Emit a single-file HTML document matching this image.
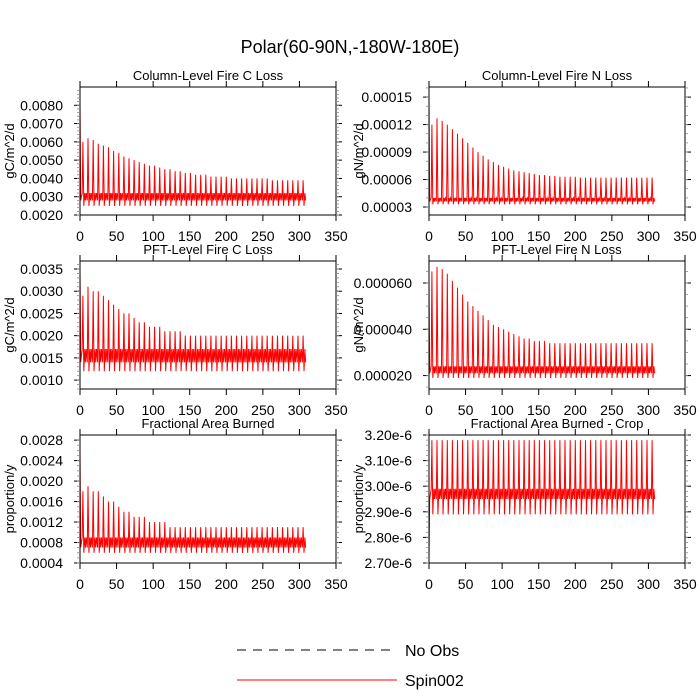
<!DOCTYPE html>
<html><head><meta charset="utf-8"><style>
body{margin:0;background:#fff;}
svg{display:block;font-family:"Liberation Sans",sans-serif;}
</style></head><body>
<svg id="c" width="700" height="700">
<text x="350" y="53" text-anchor="middle" font-size="18">Polar(60-90N,-180W-180E)</text>
<g>
<line x1="237" y1="650" x2="397" y2="650" stroke="#000" stroke-dasharray="9,7"/>
<text x="405" y="656" font-size="16">No Obs</text>
<line x1="237" y1="680" x2="397" y2="680" stroke="red"/>
<text x="405" y="686" font-size="16">Spin002</text>
</g>
</svg>
<script>
const xTicks=[0,50,100,150,200,250,300,350];
const p1Peaks=[0.0060,0.0062,0.0061,0.0059,0.0058,0.0057,0.0055,0.0054,0.0052,0.0051,0.0050,0.0049,0.0048,0.0047,0.0047,0.0046,0.0045,0.0045,0.0044,0.0044,0.0043,0.0043,0.0042,0.0042,0.0042,0.0041,0.0041,0.0041,0.0041,0.0040,0.0040,0.0040,0.0040,0.0040,0.0040,0.0040,0.0040,0.0039,0.0039,0.0039,0.0039,0.0039,0.0039,0.0039];
const p1Levels=[0.0082,0.0025,0.0028,0.0032];
const p2Peaks=[0.000120,0.000127,0.000124,0.000120,0.000115,0.000110,0.000105,0.000100,0.000095,0.000090,0.000086,0.000082,0.000079,0.000076,0.000074,0.000072,0.000070,0.000069,0.000068,0.000067,0.000066,0.000065,0.000065,0.000064,0.000064,0.000063,0.000063,0.000063,0.000063,0.000062,0.000062,0.000062,0.000062,0.000062,0.000062,0.000062,0.000062,0.000062,0.000062,0.000062,0.000062,0.000062,0.000062,0.000062];
const p2Levels=[0.000145,0.000033,0.000036,0.000040];
const p3Peaks=[0.0029,0.0031,0.0030,0.0030,0.0029,0.0028,0.0027,0.0026,0.0025,0.0025,0.0024,0.0023,0.0023,0.0022,0.0022,0.0022,0.0021,0.0021,0.0021,0.0021,0.0020,0.0020,0.0020,0.0020,0.0020,0.0020,0.0020,0.0020,0.0020,0.0020,0.0020,0.0020,0.0020,0.0020,0.0020,0.0020,0.0020,0.0020,0.0020,0.0020,0.0020,0.0020,0.0020,0.0020];
const p3Levels=[0.0035,0.0012,0.0014,0.0017];
const p4Peaks=[0.000065,0.000067,0.000066,0.000064,0.000061,0.000058,0.000055,0.000052,0.000050,0.000048,0.000046,0.000044,0.000042,0.000041,0.000040,0.000039,0.000038,0.000037,0.000036,0.000036,0.000035,0.000035,0.000035,0.000034,0.000034,0.000034,0.000034,0.000034,0.000034,0.000034,0.000034,0.000034,0.000034,0.000034,0.000034,0.000034,0.000034,0.000034,0.000034,0.000034,0.000034,0.000034,0.000034,0.000034];
const p4Levels=[0.000060,0.000019,0.000021,0.000024];
const p5Peaks=[0.0018,0.0019,0.0018,0.0018,0.0017,0.0016,0.0016,0.0015,0.0014,0.0014,0.0013,0.0013,0.0013,0.0012,0.0012,0.0012,0.0012,0.0011,0.0011,0.0011,0.0011,0.0011,0.0011,0.0011,0.0011,0.0011,0.0011,0.0011,0.0011,0.0011,0.0011,0.0011,0.0011,0.0011,0.0011,0.0011,0.0011,0.0011,0.0011,0.0011,0.0011,0.0011,0.0011,0.0011];
const p5Levels=[0.0026,0.0006,0.0007,0.0009];
const p6Peaks=[3.18e-6,3.18e-6,3.18e-6,3.18e-6,3.18e-6,3.18e-6,3.18e-6,3.18e-6,3.18e-6,3.18e-6,3.18e-6,3.18e-6,3.18e-6,3.18e-6,3.18e-6,3.18e-6,3.18e-6,3.18e-6,3.18e-6,3.18e-6,3.18e-6,3.18e-6,3.18e-6,3.18e-6,3.18e-6,3.18e-6,3.18e-6,3.18e-6,3.18e-6,3.18e-6,3.18e-6,3.18e-6,3.18e-6,3.18e-6,3.18e-6,3.18e-6,3.18e-6,3.18e-6,3.18e-6,3.18e-6,3.18e-6,3.18e-6,3.18e-6,3.18e-6];
const p6Levels=[2.72e-6,2.89e-6,2.95e-6,2.99e-6];
const p1Ticks=["0.0020","0.0030","0.0040","0.0050","0.0060","0.0070","0.0080"];
const p2Ticks=["0.00003","0.00006","0.00009","0.00012","0.00015"];
const p3Ticks=["0.0010","0.0015","0.0020","0.0025","0.0030","0.0035"];
const p4Ticks=["0.000020","0.000040","0.000060"];
const p5Ticks=["0.0004","0.0008","0.0012","0.0016","0.0020","0.0024","0.0028"];
const p6Ticks=["2.70e-6","2.80e-6","2.90e-6","3.00e-6","3.10e-6","3.20e-6"];

const NS="http://www.w3.org/2000/svg";
const svg=document.getElementById('c');
function mk(tag,attrs,parent){const e=document.createElementNS(NS,tag);for(const k in attrs)e.setAttribute(k,attrs[k]);(parent||svg).appendChild(e);return e;}

const panels=[
{id:'col-c',title:'Column-Level Fire C Loss',ylab:'gC/m^2/d',x0:80,y0:87,ymin:0.002,ymax:0.009,peaks:p1Peaks,lv:p1Levels,ticks:p1Ticks,minor:0.0002},
{id:'col-n',title:'Column-Level Fire N Loss',ylab:'gN/m^2/d',x0:429,y0:87,ymin:0.0000213,ymax:0.000161,peaks:p2Peaks,lv:p2Levels,ticks:p2Ticks,minor:0.00001},
{id:'pft-c',title:'PFT-Level Fire C Loss',ylab:'gC/m^2/d',x0:80,y0:261,ymin:0.0008,ymax:0.00368,peaks:p3Peaks,lv:p3Levels,ticks:p3Ticks,minor:0.0001},
{id:'pft-n',title:'PFT-Level Fire N Loss',ylab:'gN/m^2/d',x0:429,y0:261,ymin:0.0000142,ymax:0.0000695,peaks:p4Peaks,lv:p4Levels,ticks:p4Ticks,minor:0.000005},
{id:'area',title:'Fractional Area Burned',ylab:'proportion/y',x0:80,y0:435,ymin:0.0004,ymax:0.0029,peaks:p5Peaks,lv:p5Levels,ticks:p5Ticks,minor:0.0001},
{id:'area-crop',title:'Fractional Area Burned - Crop',ylab:'proportion/y',x0:429,y0:435,ymin:2.7e-6,ymax:3.2e-6,peaks:p6Peaks,lv:p6Levels,ticks:p6Ticks,minor:0.02e-6}
];
const W=256,H=128;
panels.forEach(p=>{
  const g=mk('g',{});
  
  
  const sx=v=>p.x0+v/350*W;
  const sy=v=>p.y0+H-(v-p.ymin)/(p.ymax-p.ymin)*H;
  let pts=[[0,p.lv[0]],[1,p.lv[2]],[3,p.lv[3]]];
  p.peaks.forEach((pk,i)=>{const b=3+i*7;
    pts.push([b+1,pk],[b+2.2,p.lv[1]],[b+3.5,p.lv[3]],[b+4.5,p.lv[2]],[b+5.5,p.lv[3]],[b+7,p.lv[2]]);
  });
  pts=pts.filter(q=>q[0]<=309);
  const line=mk('polyline',{points:pts.map(q=>sx(q[0]).toFixed(1)+','+sy(q[1]).toFixed(1)).join(' '),fill:'none',stroke:'red','stroke-width':1},g);
  
  
  const fr=mk('rect',{x:p.x0,y:p.y0,width:W,height:H,fill:'none',stroke:'#000','stroke-width':1},g);
  
  
  xTicks.forEach(t=>{const x=sx(t);
    mk('line',{x1:x,y1:p.y0+H,x2:x,y2:p.y0+H+6,stroke:'#000'},g);
    mk('line',{x1:x,y1:p.y0,x2:x,y2:p.y0-6,stroke:'#000'},g);
    const tx=mk('text',{x:x,y:p.y0+H+26,'text-anchor':'middle','font-size':14},g);
    tx.textContent=t;
    
    
  });
  p.ticks.forEach(t=>{const y=sy(parseFloat(t));
    mk('line',{x1:p.x0,y1:y,x2:p.x0-6,y2:y,stroke:'#000'},g);
    mk('line',{x1:p.x0+W,y1:y,x2:p.x0+W+6,y2:y,stroke:'#000'},g);
    const tx=mk('text',{x:p.x0-17,y:y+5,'text-anchor':'end','font-size':14},g);
    tx.textContent=t;
    
    
  });
  const start=Math.ceil(p.ymin/p.minor);
  for(let k=start;k*p.minor<=p.ymax;k++){const y=sy(k*p.minor);
    mk('line',{x1:p.x0,y1:y,x2:p.x0-3,y2:y,stroke:'#888','stroke-width':0.8},g);
    mk('line',{x1:p.x0+W,y1:y,x2:p.x0+W+3,y2:y,stroke:'#888','stroke-width':0.8},g);}
  const ti=mk('text',{x:p.x0+W/2,y:p.y0-7,'text-anchor':'middle','font-size':13},g);
  ti.textContent=p.title;
  
  
  const yl=mk('text',{x:0,y:0,'text-anchor':'middle','font-size':13,transform:`translate(${p.x0-66},${p.y0+H/2}) rotate(-90)`},g);
  yl.textContent=p.ylab;
  
  
});
</script>
</body></html>
